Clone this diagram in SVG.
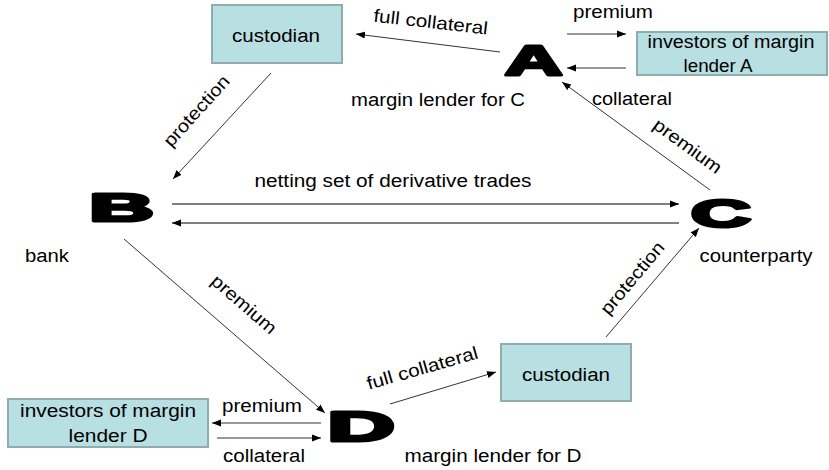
<svg xmlns="http://www.w3.org/2000/svg" width="829" height="470" viewBox="0 0 829 470">
<style>
  text { font-family: "Liberation Sans", Arial, sans-serif; font-size: 18px; fill: #000; }
  .big { font-weight: bold; stroke: #000; stroke-width: 3; stroke-linejoin: round; }
  .box { fill: #b8dfe1; stroke: #8fadae; stroke-width: 2; }
  .ln { stroke: #333; stroke-width: 1; fill: none; marker-end: url(#ah); }
  .ln2 { stroke: #555; stroke-width: 1.4; fill: none; marker-end: url(#ah); }
</style>
<defs>
  <marker id="ah" markerUnits="userSpaceOnUse" markerWidth="10" markerHeight="8" refX="9" refY="4" orient="auto">
    <path d="M0,0.5 L9,4 L0,7.5 Z" fill="#000"/>
  </marker>
</defs>
<rect width="829" height="470" fill="#fff"/>

<g id="connectors">
  <line class="ln" x1="500" y1="52" x2="356" y2="34"/>
  <line class="ln" x1="567" y1="34" x2="626" y2="34"/>
  <line class="ln" x1="626" y1="68" x2="567" y2="68"/>
  <line class="ln" x1="710" y1="190" x2="562" y2="82"/>
  <line class="ln" x1="271" y1="73" x2="173" y2="179"/>
  <line class="ln2" x1="172" y1="204" x2="679" y2="204"/>
  <line class="ln2" x1="679" y1="223" x2="172" y2="223"/>
  <line class="ln" x1="124" y1="239" x2="325" y2="413"/>
  <line class="ln" x1="390" y1="404" x2="496" y2="372"/>
  <line class="ln" x1="606" y1="337" x2="699" y2="228"/>
  <line class="ln" x1="321" y1="423" x2="212" y2="423"/>
  <line class="ln" x1="217" y1="438" x2="321" y2="438"/>
  <text textLength="115" lengthAdjust="spacingAndGlyphs" text-anchor="middle" transform="translate(430,28) rotate(6.5)">full collateral</text>
  <text x="613" y="18" textLength="80" lengthAdjust="spacingAndGlyphs" text-anchor="middle">premium</text>
  <text x="632" y="105" textLength="80" lengthAdjust="spacingAndGlyphs" text-anchor="middle">collateral</text>
  <text textLength="80" lengthAdjust="spacingAndGlyphs" text-anchor="middle" transform="translate(684,151) rotate(36)">premium</text>
  <text textLength="89" lengthAdjust="spacingAndGlyphs" text-anchor="middle" transform="translate(201,115) rotate(-48)">protection</text>
  <text x="393" y="187" textLength="277" lengthAdjust="spacingAndGlyphs" text-anchor="middle">netting set of derivative trades</text>
  <text textLength="80" lengthAdjust="spacingAndGlyphs" text-anchor="middle" transform="translate(240,309) rotate(41)">premium</text>
  <text textLength="115" lengthAdjust="spacingAndGlyphs" text-anchor="middle" transform="translate(424,374) rotate(-16)">full collateral</text>
  <text textLength="89" lengthAdjust="spacingAndGlyphs" text-anchor="middle" transform="translate(637,282) rotate(-50)">protection</text>
  <text x="262" y="412" textLength="80" lengthAdjust="spacingAndGlyphs" text-anchor="middle">premium</text>
  <text x="264" y="462" textLength="82" lengthAdjust="spacingAndGlyphs" text-anchor="middle">collateral</text>
</g>

<g id="custodian-top">
  <rect class="box" x="212" y="5" width="130" height="58"/>
  <text x="276" y="42" textLength="88" lengthAdjust="spacingAndGlyphs" text-anchor="middle">custodian</text>
</g>

<g id="investors-A">
  <rect class="box" x="637" y="32" width="190" height="43"/>
  <text x="731" y="48" textLength="167" lengthAdjust="spacingAndGlyphs" text-anchor="middle">investors of margin</text>
  <text x="718" y="72" textLength="69" lengthAdjust="spacingAndGlyphs" text-anchor="middle">lender A</text>
</g>

<g id="node-A">
  <text class="big" style="font-size:43px" text-anchor="middle" transform="translate(533.5,74.5) scale(1.86,1)">A</text>
  <text x="438" y="106" textLength="174" lengthAdjust="spacingAndGlyphs" text-anchor="middle">margin lender for C</text>
</g>

<g id="node-B">
  <text class="big" style="font-size:38px" text-anchor="middle" transform="translate(121.5,220.5) scale(2.35,1)">B</text>
  <text x="47" y="262" textLength="44" lengthAdjust="spacingAndGlyphs" text-anchor="middle">bank</text>
</g>

<g id="node-C">
  <text class="big" style="font-size:38px" text-anchor="middle" transform="translate(721,226.5) scale(2.18,1)">C</text>
  <text x="756" y="262" textLength="113" lengthAdjust="spacingAndGlyphs" text-anchor="middle">counterparty</text>
</g>

<g id="node-D">
  <text class="big" style="font-size:43px" text-anchor="middle" transform="translate(361,440.5) scale(2.18,1)">D</text>
  <text x="493" y="462" textLength="177" lengthAdjust="spacingAndGlyphs" text-anchor="middle">margin lender for D</text>
</g>

<g id="custodian-bottom">
  <rect class="box" x="501" y="344" width="130" height="57"/>
  <text x="566" y="381" textLength="88" lengthAdjust="spacingAndGlyphs" text-anchor="middle">custodian</text>
</g>

<g id="investors-D">
  <rect class="box" x="8" y="399" width="200" height="48"/>
  <text x="108" y="417" textLength="176" lengthAdjust="spacingAndGlyphs" text-anchor="middle">investors of margin</text>
  <text x="108" y="442" textLength="79" lengthAdjust="spacingAndGlyphs" text-anchor="middle">lender D</text>
</g>
</svg>
